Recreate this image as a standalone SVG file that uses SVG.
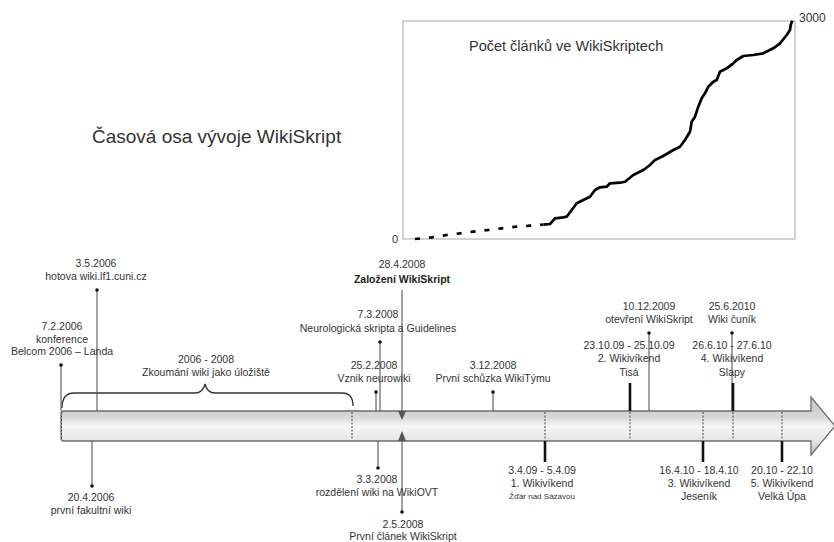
<svg xmlns="http://www.w3.org/2000/svg" width="834" height="542" viewBox="0 0 834 542">
<style>
text{font-family:"Liberation Sans",Arial,sans-serif;fill:#333;}
.lb{font-size:10.5px;text-anchor:middle;}
.sm{font-size:8px;text-anchor:middle;}
.bd{font-weight:bold;fill:#222;}
.ln{stroke:#555;stroke-width:1.1;fill:none;}
.tk{stroke:#111;stroke-width:2.6;fill:none;}
.dt{stroke:#444;stroke-width:1;stroke-dasharray:2,1.5;fill:none;}
.dot{fill:#111;}
</style>
<defs>
<linearGradient id="g" x1="0" y1="0" x2="0" y2="1">
<stop offset="0" stop-color="#c4c4c4"/>
<stop offset="0.35" stop-color="#d8d8d8"/>
<stop offset="0.5" stop-color="#f6f6f6"/>
<stop offset="0.75" stop-color="#e6e6e6"/>
<stop offset="1" stop-color="#bdbdbd"/>
</linearGradient>
</defs>
<rect width="834" height="542" fill="#fff"/>

<g id="title"><text x="92" y="143" style="font-size:19px">Časová osa vývoje WikiSkript</text></g>

<g id="chart">
<rect x="403" y="21" width="392" height="218" fill="none" stroke="#b5b5b5" stroke-width="1.2"/>
<text x="469" y="50.5" style="font-size:14.5px">Počet článků ve WikiSkriptech</text>
<text x="392" y="243" style="font-size:11px">0</text>
<text x="799" y="22" style="font-size:12px">3000</text>
<polyline points="415,239 431.7,237.3 446.7,235 460,233.3 473.3,231.7 488.3,230 501.7,228.3 516.7,226.7 530,225.7 543,224.7" fill="none" stroke="#000" stroke-width="2.7" stroke-dasharray="5,9"/>
<polyline points="543.3,224.7 550,224 555,218.3 563.3,217.3 566.7,216.7 571.7,210 576.7,203.3 583.3,200 590,196.7 595,190 600,187.3 606.7,186.7 610,183.3 620,182.7 625,181.7 633.3,175 643.3,170 650,165 655,160 661.7,156.7 666.7,154 673.3,150 680,146.7 685,140 690,131.7 691.7,121.7 695,116.7 698.3,106.7 701.7,98.3 705,93.3 708.3,86.7 713.3,81.7 716.7,80 720,71.7 726.7,68.3 733.3,63.3 736.7,60 743.3,56 753.3,55 763.3,53.3 773.3,48.3 780,43.3 786.7,35 790,30 790.7,25 792.3,20.7" fill="none" stroke="#000" stroke-width="2.7" stroke-linejoin="round"/>
</g>

<g id="timeline">
<path d="M64,411 H811 V397 L835,426 L811,455 V441 H64 Q61,441 61,438 V414 Q61,411 64,411 Z" fill="url(#g)" stroke="#6e6e6e" stroke-width="1.3"/>
</g>

<g id="brace">
<path d="M62,408 Q62,393 74,393 H195 Q203,393 205,384 Q207,393 215,393 H342 Q353,393 353,406" fill="none" stroke="#333" stroke-width="1.3"/>
<text class="lb" x="206" y="363">2006 - 2008</text>
<text class="lb" x="206" y="375.5">Zkoumání wiki jako úložiště</text>
</g>

<g id="connectors">
<line class="dt" x1="61.5" y1="412" x2="61.5" y2="440"/>
<line class="dt" x1="352" y1="412" x2="352" y2="440"/>
<line class="dt" x1="545" y1="412" x2="545" y2="440"/>
<line class="dt" x1="630" y1="412" x2="630" y2="440"/>
<line class="dt" x1="703" y1="412" x2="703" y2="440"/>
<line class="dt" x1="733" y1="412" x2="733" y2="440"/>
<line class="dt" x1="782" y1="412" x2="782" y2="440"/>
<line class="ln" x1="61" y1="365" x2="61" y2="411"/>
<line class="ln" x1="97" y1="290" x2="97" y2="411"/>
<line class="ln" x1="402" y1="290" x2="402" y2="412"/>
<polygon points="398,411 406,411 402,420" fill="#555"/>
<line class="ln" x1="380" y1="342" x2="380" y2="411"/>
<line class="ln" x1="376" y1="392" x2="376" y2="411"/>
<line class="ln" x1="493" y1="392" x2="493" y2="411"/>
<line class="ln" x1="649" y1="333" x2="649" y2="411"/>
<line class="ln" x1="732" y1="333" x2="732" y2="411"/>
<line class="tk" x1="630" y1="383" x2="630" y2="411"/>
<line class="tk" x1="733" y1="383" x2="733" y2="411"/>
<line class="ln" x1="92" y1="441" x2="92" y2="486"/>
<line class="ln" x1="378" y1="441" x2="378" y2="468"/>
<line class="ln" x1="402" y1="512" x2="402" y2="440"/>
<polygon points="398,441 406,441 402,431" fill="#555"/>
<line class="tk" x1="545" y1="441" x2="545" y2="462"/>
<line class="tk" x1="703" y1="441" x2="703" y2="462"/>
<line class="tk" x1="782" y1="441" x2="782" y2="462"/>
</g>

<g id="e-7-2-2006"><circle class="dot" cx="61" cy="365" r="1.8"/>
<text class="lb" x="62" y="330">7.2.2006</text><text class="lb" x="62" y="342.5">konference</text><text class="lb" x="62" y="355">Belcom 2006 – Landa</text></g>
<g id="e-3-5-2006"><circle class="dot" cx="97" cy="290" r="1.8"/>
<text class="lb" x="96" y="267">3.5.2006</text><text class="lb" x="96" y="280">hotova wiki.lf1.cuni.cz</text></g>
<g id="e-28-4-2008">
<text class="lb" x="402" y="268">28.4.2008</text><text class="lb bd" x="402" y="283">Založení WikiSkript</text></g>
<g id="e-7-3-2008"><circle class="dot" cx="380" cy="342" r="1.8"/>
<text class="lb" x="378" y="318">7.3.2008</text><text class="lb" x="378" y="331.5">Neurologická skripta a Guidelines</text></g>
<g id="e-25-2-2008"><circle class="dot" cx="376" cy="392" r="1.8"/>
<text class="lb" x="374" y="369">25.2.2008</text><text class="lb" x="374" y="382">Vznik neurowiki</text></g>
<g id="e-3-12-2008"><circle class="dot" cx="493" cy="392" r="1.8"/>
<text class="lb" x="493" y="369">3.12.2008</text><text class="lb" x="493" y="382">První schůzka WikiTýmu</text></g>
<g id="e-10-12-2009"><circle class="dot" cx="649" cy="333" r="1.8"/>
<text class="lb" x="649" y="310">10.12.2009</text><text class="lb" x="649" y="323">otevření WikiSkript</text></g>
<g id="e-25-6-2010"><circle class="dot" cx="732" cy="333" r="1.8"/>
<text class="lb" x="732" y="310">25.6.2010</text><text class="lb" x="732" y="323">Wiki čuník</text></g>
<g id="e-wv2">
<text class="lb" x="629" y="349">23.10.09 - 25.10.09</text><text class="lb" x="629" y="362">2. Wikivíkend</text><text class="lb" x="629" y="375.5">Tisá</text></g>
<g id="e-wv4">
<text class="lb" x="732" y="349">26.6.10 - 27.6.10</text><text class="lb" x="732" y="362">4. Wikivíkend</text><text class="lb" x="732" y="375.5">Slapy</text></g>

<g id="e-20-4-2006"><circle class="dot" cx="92" cy="486" r="1.8"/>
<text class="lb" x="91" y="501">20.4.2006</text><text class="lb" x="91" y="514">první fakultní wiki</text></g>
<g id="e-3-3-2008"><circle class="dot" cx="378" cy="468" r="1.8"/>
<text class="lb" x="377" y="483">3.3.2008</text><text class="lb" x="377" y="496">rozdělení wiki na WikiOVT</text></g>
<g id="e-2-5-2008"><circle class="dot" cx="402" cy="512" r="1.8"/>
<text class="lb" x="403" y="528">2.5.2008</text><text class="lb" x="403" y="540">První článek WikiSkript</text></g>
<g id="e-wv1">
<text class="lb" x="542" y="474">3.4.09 - 5.4.09</text><text class="lb" x="542" y="487">1. Wikivíkend</text><text class="sm" x="542" y="499">Žďár nad Sázavou</text></g>
<g id="e-wv3">
<text class="lb" x="699" y="474">16.4.10 - 18.4.10</text><text class="lb" x="699" y="487">3. Wikivíkend</text><text class="lb" x="699" y="500">Jeseník</text></g>
<g id="e-wv5">
<text class="lb" x="782" y="474">20.10 - 22.10</text><text class="lb" x="782" y="487">5. Wikivíkend</text><text class="lb" x="782" y="500">Velká Úpa</text></g>
</svg>
